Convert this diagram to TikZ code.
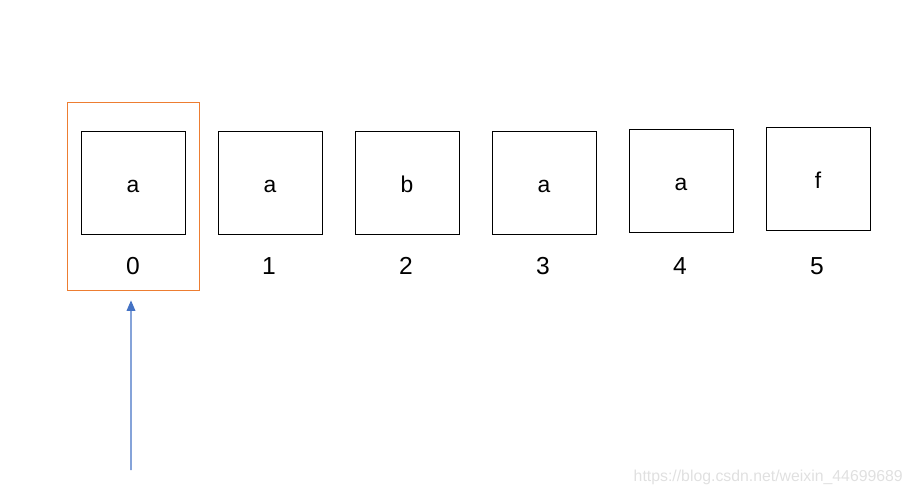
\documentclass[tikz,border=0pt]{standalone}
\usepackage{fontspec}
\setmainfont{Liberation Sans}
\usetikzlibrary{arrows.meta}
\definecolor{winorange}{RGB}{237,125,49}
\definecolor{ptrblue}{RGB}{68,114,196}

\begin{document}
\begin{tikzpicture}[
    cell/.style={draw=black, line width=0.45pt, rectangle, minimum width=2.08cm, minimum height=2.06cm, inner sep=0pt, text height=0.4cm, text depth=0cm, font=\fontsize{13}{15}\selectfont},
    idx/.style={font=\fontsize{14}{16}\selectfont},
    window/.style={draw=winorange, line width=0.45pt, rectangle, minimum width=2.64cm, minimum height=3.76cm, inner sep=0pt},
    pointer/.style={draw=ptrblue, line width=0.6pt, -{Triangle[width=5pt,length=6pt]}}
]
\useasboundingbox (0,0) rectangle (18.36,-9.88);

\node[window] (win) at (2.66,-3.92) {};

\node[cell] (cell0) at (2.66,-3.65) {a};
\node[cell] (cell1) at (5.40,-3.65) {a};
\node[cell] (cell2) at (8.14,-3.65) {b};
\node[cell] (cell3) at (10.88,-3.65) {a};
\node[cell] (cell4) at (13.62,-3.61) {a};
\node[cell] (cell5) at (16.36,-3.57) {f};

\node[idx] (idx0) at (2.66,-5.32) {0};
\node[idx] (idx1) at (5.38,-5.32) {1};
\node[idx] (idx2) at (8.12,-5.32) {2};
\node[idx] (idx3) at (10.86,-5.32) {3};
\node[idx] (idx4) at (13.60,-5.32) {4};
\node[idx] (idx5) at (16.34,-5.32) {5};

\coordinate (ptr) at (2.62,-9.40);
\draw[pointer] (ptr) -- ([xshift=-0.04cm,yshift=-0.2cm]win.south);

\node[text=black!12, font=\fontsize{9}{11}\selectfont, anchor=east] (mark) at (18.18,-9.54) {https://blog.csdn.net/weixin\_44699689};
\end{tikzpicture}
\end{document}
